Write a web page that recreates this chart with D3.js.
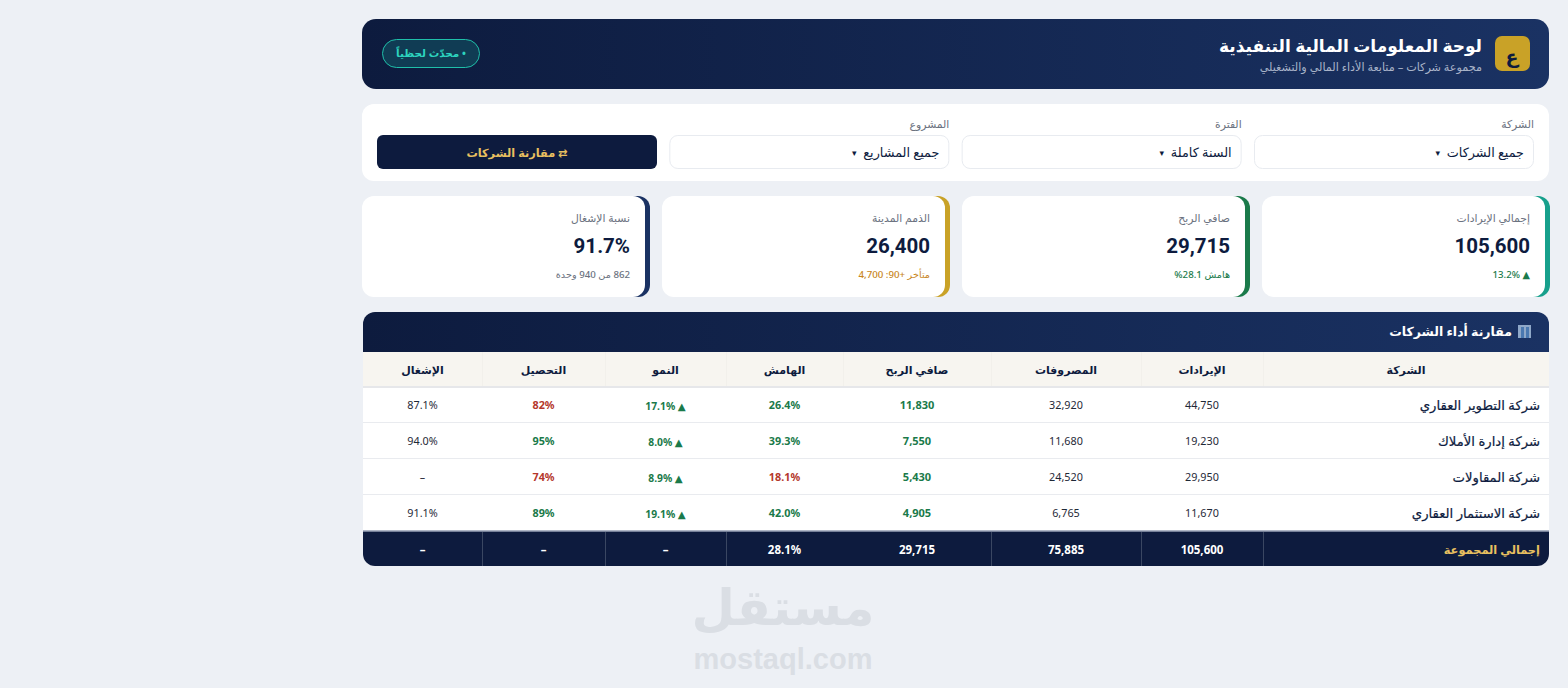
<!DOCTYPE html>
<html lang="ar">
<head>
<meta charset="utf-8">
<script src="https://cdn.jsdelivr.net/npm/d3@7"></script>
<style>
  html, body { margin: 0; padding: 0; background: #edf0f5; overflow: hidden; }
  svg { display: block; }
  text { font-family: "Noto Sans", "Open Sans", "DejaVu Sans", sans-serif; }
</style>
</head>
<body>
<svg id="chart" width="1568" height="688"></svg>
<script>
// table data
const companies = ['شركة التطوير العقاري', 'شركة إدارة الأملاك', 'شركة المقاولات', 'شركة الاستثمار العقاري'];
const revenue = [44750, 19230, 29950, 11670];
const expenses = [32920, 11680, 24520, 6765];
const profit = [11830, 7550, 5430, 4905];
const margin = [26.4, 39.3, 18.1, 42.0];
const growth = [17.1, 8.0, 8.9, 19.1];
const collection = [82, 95, 74, 89];
const occupancy = [87.1, 94.0, null, 91.1];
const columns = ['الشركة', 'الإيرادات', 'المصروفات', 'صافي الربح', 'الهامش', 'النمو', 'التحصيل', 'الإشغال'];
const totals = ['إجمالي المجموعة', 105600, 75885, 29715, 28.1, null, null, null];

// kpi cards
const kpiLabels = ['إجمالي الإيرادات', 'صافي الربح', 'الذمم المدينة', 'نسبة الإشغال'];
const kpiValues = ['105,600', '29,715', '26,400', '91.7%'];
const kpiNotes = ['▲ 13.2%', 'هامش 28.1%', 'متأخر +90: 4,700', '862 من 940 وحدة'];
const kpiColors = ['#17a08c', '#1a7a4a', '#c9a227', '#1a3263'];
const kpiNoteColors = ['#1a7a4a', '#1a7a4a', '#c8861c', '#6b7280'];

// filters
const filterLabels = ['الشركة', 'الفترة', 'المشروع'];
const filterValues = ['جميع الشركات', 'السنة كاملة', 'جميع المشاريع'];

const svg = d3.select('#chart');
const defs = svg.append('defs');
const grad = defs.append('linearGradient').attr('id', 'navy');
grad.append('stop').attr('offset', '0%').attr('stop-color', '#0d1b3e');
grad.append('stop').attr('offset', '100%').attr('stop-color', '#1a3263');

const fmt = d3.format(',');
const GREEN = '#1a7a4a', RED = '#b5382c', INK = '#0d1b3e', GOLD = '#e8c060';

// rtl text helper, anchor 'start' means right aligned here
function label(parent, x, y, str, size, weight, color, anchor) {
  return parent.append('text')
    .attr('x', x).attr('y', y)
    .attr('direction', 'rtl')
    .attr('text-anchor', anchor || 'start')
    .attr('dominant-baseline', 'central')
    .attr('font-size', size)
    .attr('font-weight', weight)
    .attr('fill', color)
    .text(str);
}

// header
const head = svg.append('g');
head.append('rect').attr('x', 362).attr('y', 19).attr('width', 1187).attr('height', 70).attr('rx', 14).attr('fill', 'url(#navy)');
head.append('rect').attr('x', 1495).attr('y', 36).attr('width', 35).attr('height', 35).attr('rx', 7).attr('fill', '#c9a227');
label(head, 1512, 56, 'ع', 19, 700, INK, 'middle');
label(head, 1482, 45, 'لوحة المعلومات المالية التنفيذية', 17, 700, '#ffffff');
label(head, 1482, 66, 'مجموعة شركات – متابعة الأداء المالي والتشغيلي', 11.2, 400, '#a9b4c9');
head.append('rect').attr('x', 382.5).attr('y', 39.5).attr('width', 97).attr('height', 28).attr('rx', 14)
  .attr('fill', '#103c54').attr('stroke', '#1fbfa9');
label(head, 431, 53, '• محدّث لحظياً', 10.5, 700, '#2dd4bf', 'middle');

// filter panel
const panel = svg.append('g');
panel.append('rect').attr('x', 362).attr('y', 104).attr('width', 1187).attr('height', 77).attr('rx', 12).attr('fill', '#fff');
const filterX = d3.scalePoint().domain(d3.range(4)).range([1254, 377]);
filterLabels.forEach((f, i) => {
  const x = filterX(i);
  label(panel, x + 280, 123, f, 10.8, 400, '#6b7280');
  panel.append('rect').attr('x', x + 0.5).attr('y', 135.5).attr('width', 279).attr('height', 33).attr('rx', 8)
    .attr('fill', '#fff').attr('stroke', '#e8ebf0');
  const t = label(panel, x + 270, 152, filterValues[i] + '\u00a0\u00a0', 12.8, 500, INK);
  t.append('tspan').attr('font-size', 9).text('▾');
});
panel.append('rect').attr('x', filterX(3)).attr('y', 135).attr('width', 280).attr('height', 34).attr('rx', 6).attr('fill', '#0d1b3e');
label(panel, filterX(3) + 140, 152, '⇄ مقارنة الشركات', 11.3, 700, GOLD, 'middle');

// kpi cards
const cardX = d3.scalePoint().domain(d3.range(4)).range([1262, 362]);
const cards = svg.selectAll('g.card').data(kpiLabels).join('g').attr('class', 'card')
  .attr('transform', (d, i) => `translate(${cardX(i)},196)`);
cards.append('rect').attr('x', 248).attr('width', 40).attr('height', 101).attr('rx', 12).attr('fill', (d, i) => kpiColors[i]);
cards.append('rect').attr('width', 283).attr('height', 101).attr('rx', 12).attr('fill', '#fff');
cards.each(function (d, i) {
  const c = d3.select(this);
  label(c, 268, 21, d, 10.8, 400, '#6b7280');
  label(c, 268, 50, kpiValues[i], 20.5, 700, INK).style('font-family', 'Roboto, sans-serif');
  label(c, 268, 78, kpiNotes[i], 9.7, 500, kpiNoteColors[i]);
});

// table
const table = svg.append('g');
const clip = defs.append('clipPath').attr('id', 'tableClip');
clip.append('rect').attr('x', 363).attr('y', 312).attr('width', 1186).attr('height', 254).attr('rx', 12);
const body = table.append('g').attr('clip-path', 'url(#tableClip)');
body.append('rect').attr('x', 363).attr('y', 312).attr('width', 1186).attr('height', 254).attr('fill', '#fff');
body.append('rect').attr('x', 363).attr('y', 312).attr('width', 1186).attr('height', 40).attr('fill', 'url(#navy)');

// building icon next to the title
const icon = body.append('g').attr('transform', 'translate(1518,325)');
icon.append('rect').attr('width', 13).attr('height', 13).attr('fill', '#8fa8c8');
icon.append('rect').attr('x', 3).attr('y', 2).attr('width', 3).attr('height', 11).attr('fill', '#4a78b0');
icon.append('rect').attr('x', 8).attr('y', 2).attr('width', 3).attr('height', 11).attr('fill', '#4a78b0');
label(body, 1512, 331, 'مقارنة أداء الشركات', 12.5, 700, '#fff');

// column edges and centres, right to left
const colEdges = [1549, 1263, 1141, 991, 843, 726, 605, 482, 363];
const colCenter = i => (colEdges[i] + colEdges[i + 1]) / 2;
const rowY = d3.scaleBand().domain(d3.range(companies.length)).range([387, 531]);

body.append('rect').attr('x', 363).attr('y', 352).attr('width', 1186).attr('height', 35).attr('fill', '#f7f5f0');
body.append('line').attr('x1', 363).attr('x2', 1549).attr('y1', 387).attr('y2', 387).attr('stroke', '#e6e7ea').attr('stroke-width', 2);
columns.forEach((c, i) => {
  label(body, colCenter(i), 369.5, c, 11, 700, INK, 'middle');
  if (i > 0) body.append('line').attr('x1', colEdges[i] + 0.5).attr('x2', colEdges[i] + 0.5).attr('y1', 352).attr('y2', 386).attr('stroke', '#f2f0eb');
});

const pct1 = v => v.toFixed(1) + '%';
const rows = body.selectAll('g.row').data(companies).join('g').attr('class', 'row')
  .attr('transform', (d, i) => `translate(0,${rowY(i)})`);
rows.append('line').attr('x1', 363).attr('x2', 1549).attr('y1', rowY.bandwidth() - 0.5).attr('y2', rowY.bandwidth() - 0.5).attr('stroke', '#e9ebef');
rows.each(function (d, i) {
  const r = d3.select(this);
  const mid = rowY.bandwidth() / 2 - 0.5;
  label(r, 1540, mid, d, 13.2, 500, INK).attr('stroke', INK).attr('stroke-width', 0.2);
  label(r, colCenter(1), mid, fmt(revenue[i]), 10.8, 400, '#1f2937', 'middle');
  label(r, colCenter(2), mid, fmt(expenses[i]), 10.8, 400, '#1f2937', 'middle');
  label(r, colCenter(3), mid, fmt(profit[i]), 11, 700, GREEN, 'middle');
  label(r, colCenter(4), mid, pct1(margin[i]), 10.8, 700, margin[i] < 20 ? RED : GREEN, 'middle');
  label(r, colCenter(5), mid + 1, '▲\u2005' + pct1(growth[i]), 10.3, 700, GREEN, 'middle');
  label(r, colCenter(6), mid, collection[i] + '%', 10.8, 700, collection[i] < 85 ? RED : GREEN, 'middle');
  label(r, colCenter(7), mid, occupancy[i] == null ? '–' : pct1(occupancy[i]), 10.8, 400, '#1f2937', 'middle');
});

// totals row
body.append('rect').attr('x', 363).attr('y', 531).attr('width', 1186).attr('height', 35).attr('fill', '#0d1b3e');
body.append('line').attr('x1', 363).attr('x2', 1549).attr('y1', 531).attr('y2', 531).attr('stroke', '#9aa5b8').attr('stroke-width', 1.5);
totals.forEach((t, i) => {
  if (i === 0) { label(body, 1540, 549, t, 11.4, 700, GOLD); }
  else {
    let s = '–';
    if (t != null) s = i === 4 ? pct1(t) : fmt(t);
    label(body, colCenter(i), 549, s, 11.5, 700, '#fff', 'middle');
  }
  if (i > 0 && i !== 4) body.append('line').attr('x1', colEdges[i] + 0.5).attr('x2', colEdges[i] + 0.5).attr('y1', 532).attr('y2', 566).attr('stroke', '#3a4762');
});

// watermark
label(svg, 783, 606, 'مستقل', 50, 700, '#dadee4', 'middle');
svg.append('text').attr('x', 783).attr('y', 659).attr('text-anchor', 'middle').attr('dominant-baseline', 'central')
  .style('font-family', '"Liberation Sans", sans-serif').attr('font-size', 29).attr('font-weight', 700)
  .attr('fill', '#dadee4').text('mostaql.com');
</script>
</body>
</html>
